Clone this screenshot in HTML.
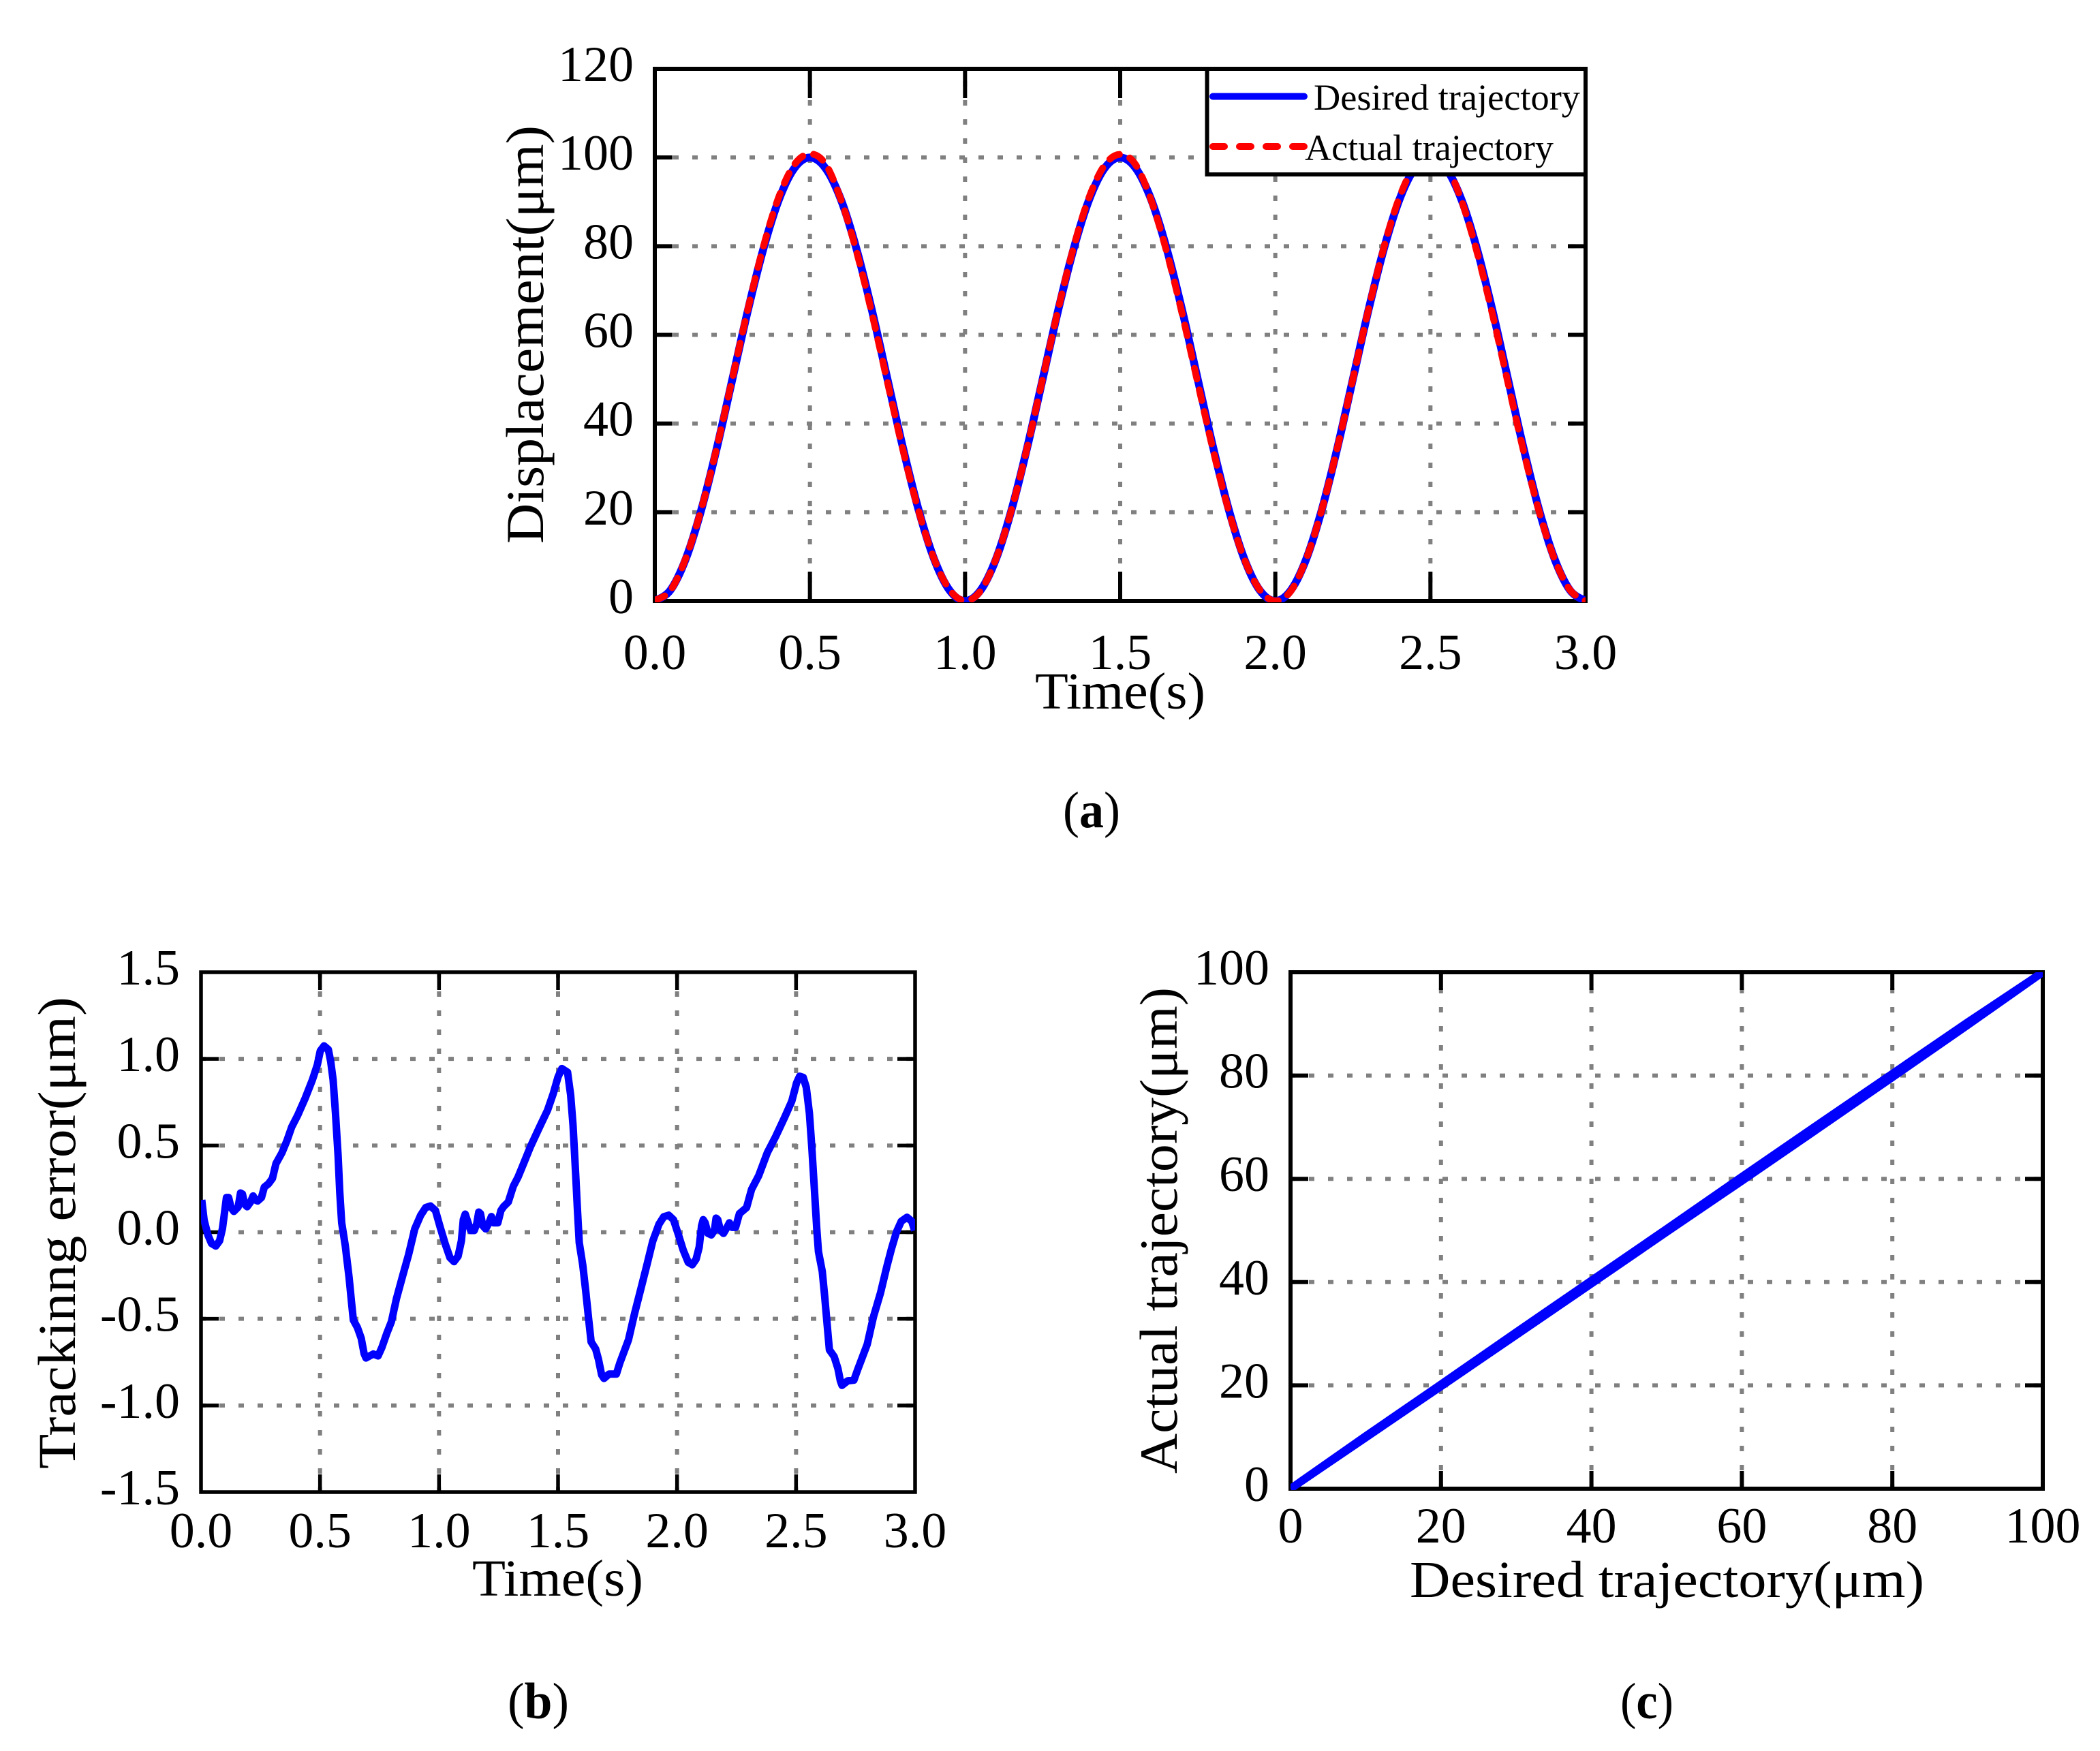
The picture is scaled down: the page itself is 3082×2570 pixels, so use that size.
<!DOCTYPE html>
<html lang="en">
<head>
<meta charset="utf-8">
<title>Trajectory tracking charts</title>
<style>
html,body{margin:0;padding:0;background:#fff;}
svg{display:block;}
text{font-family:"Liberation Serif",serif;fill:#000;}
</style>
</head>
<body>
<svg id="fig" xmlns="http://www.w3.org/2000/svg" width="3082" height="2570" viewBox="0 0 3082 2570">
  <rect width="3082" height="2570" fill="#fff"/>
  <defs>
    <clipPath id="clip-a"><rect x="961" y="101" width="1366" height="783"/></clipPath>
    <clipPath id="clip-b"><rect x="295" y="1427" width="1048" height="763"/></clipPath>
    <clipPath id="clip-c"><rect x="1894" y="1427" width="1104" height="760"/></clipPath>
  </defs>
  <g id="panel-a"></g>
  <g id="panel-b"></g>
  <g id="panel-c"></g>

  <text x="1519" y="1040" font-size="76" textLength="250" lengthAdjust="spacingAndGlyphs">Time(s)</text>
  <text transform="translate(797 798) rotate(-90)" font-size="78" textLength="614" lengthAdjust="spacingAndGlyphs">Displacement(μm)</text>
  <text x="1560" y="1214" font-size="75" textLength="84" lengthAdjust="spacingAndGlyphs">(<tspan font-weight="bold">a</tspan>)</text>

  <text x="693" y="2342" font-size="76" textLength="251" lengthAdjust="spacingAndGlyphs">Time(s)</text>
  <text transform="translate(110 2156) rotate(-90)" font-size="78" textLength="693" lengthAdjust="spacingAndGlyphs">Trackinng error(μm)</text>
  <text x="745" y="2522" font-size="75" textLength="90" lengthAdjust="spacingAndGlyphs">(<tspan font-weight="bold">b</tspan>)</text>

  <text x="2069" y="2344" font-size="76" textLength="755" lengthAdjust="spacingAndGlyphs">Desired trajectory(μm)</text>
  <text transform="translate(1727 2163) rotate(-90)" font-size="78" textLength="714" lengthAdjust="spacingAndGlyphs">Actual trajectory(μm)</text>
  <text x="2378" y="2522" font-size="75" textLength="78" lengthAdjust="spacingAndGlyphs">(<tspan font-weight="bold">c</tspan>)</text>

  <g id="legend">
    <rect x="1771.5" y="101" width="555.5" height="155" fill="#fff" stroke="#000" stroke-width="6"/>
    <line x1="1780" y1="141.5" x2="1914" y2="141.5" stroke="#0000ff" stroke-width="10" stroke-linecap="round"/>
    <text x="1928" y="161" font-size="54" textLength="391" lengthAdjust="spacingAndGlyphs">Desired trajectory</text>
    <line x1="1780" y1="215" x2="1914" y2="215" stroke="#ff0000" stroke-width="10" stroke-linecap="round" stroke-dasharray="17 22"/>
    <text x="1915" y="235" font-size="54" textLength="365" lengthAdjust="spacingAndGlyphs">Actual trajectory</text>
  </g>
</svg>
<script>
/* ---------- Panel (a) data ---------- */
const aTime = [0,0.05,0.1,0.15,0.2,0.25,0.3,0.35,0.4,0.45,0.5,0.55,0.6,0.65,0.7,0.75,0.8,0.85,0.9,0.95,1,
  1.05,1.1,1.15,1.2,1.25,1.3,1.35,1.4,1.45,1.5,1.55,1.6,1.65,1.7,1.75,1.8,1.85,1.9,1.95,2,
  2.05,2.1,2.15,2.2,2.25,2.3,2.35,2.4,2.45,2.5,2.55,2.6,2.65,2.7,2.75,2.8,2.85,2.9,2.95,3];
const aDesired = [0,2.4,9.5,20.6,34.5,50,65.5,79.4,90.5,97.6,100,97.6,90.5,79.4,65.5,50,34.5,20.6,9.5,2.4,0,
  2.4,9.5,20.6,34.5,50,65.5,79.4,90.5,97.6,100,97.6,90.5,79.4,65.5,50,34.5,20.6,9.5,2.4,0,
  2.4,9.5,20.6,34.5,50,65.5,79.4,90.5,97.6,100,97.6,90.5,79.4,65.5,50,34.5,20.6,9.5,2.4,0];
const aActual = [0.1,2.33,9.65,20.73,34.67,50.2,65.81,79.89,91.16,98.42,100.8,98.55,90.48,78.85,64.78,49.3,33.98,20.36,9.52,2.55,0.05,
  2.26,9.58,20.62,34.53,50.07,65.7,79.78,91.05,98.29,100.7,98.35,90.33,78.72,64.67,49.19,33.9,20.3,9.45,2.49,0,
  2.23,9.55,20.6,34.53,50.03,65.65,79.74,91,98.25,100.7,98.35,90.3,78.7,64.63,49.16,33.86,20.25,9.41,2.46,0];
const aXTicks = ["0.0","0.5","1.0","1.5","2.0","2.5","3.0"];
const aYTicks = ["0","20","40","60","80","100","120"];

/* ---------- Panel (b) data ---------- */
const bTime = [0.003,0.013,0.029,0.044,0.062,0.078,0.09,0.1,0.107,0.116,0.126,0.138,0.156,0.166,0.174,0.184,0.194,0.208,0.219,0.228,0.238,0.254,0.266,0.284,0.3,0.315,0.34,0.361,0.381,0.407,0.438,0.468,0.489,0.501,0.517,0.535,0.545,0.555,0.565,0.576,0.583,0.591,0.606,0.622,0.632,0.64,0.657,0.673,0.685,0.693,0.709,0.724,0.744,0.76,0.78,0.8,0.821,0.847,0.872,0.898,0.923,0.944,0.964,0.985,
  1.005,1.026,1.046,1.063,1.08,1.094,1.102,1.11,1.12,1.133,1.148,1.158,1.167,1.174,1.184,1.196,1.21,1.22,1.23,1.247,1.26,1.271,1.291,1.312,1.332,1.358,1.384,1.42,1.456,1.48,1.5,1.516,1.54,1.553,1.563,1.574,1.581,1.589,1.604,1.617,1.629,1.639,1.658,1.67,1.683,1.693,1.714,1.745,1.76,1.796,1.821,1.847,1.873,1.898,1.924,1.944,1.965,1.985,
  2.006,2.026,2.047,2.064,2.08,2.093,2.103,2.11,2.118,2.13,2.144,2.157,2.164,2.171,2.182,2.195,2.21,2.22,2.231,2.246,2.262,2.292,2.313,2.343,2.379,2.415,2.451,2.482,2.502,2.515,2.53,2.543,2.556,2.566,2.577,2.587,2.594,2.61,2.62,2.63,2.64,2.66,2.676,2.686,2.693,2.717,2.743,2.758,2.799,2.825,2.855,2.881,2.901,2.922,2.942,2.966,2.986,2.998];
const bError = [0.186,0.07,-0.016,-0.065,-0.08,-0.05,0.02,0.125,0.2,0.2,0.142,0.12,0.145,0.226,0.22,0.16,0.147,0.174,0.209,0.186,0.18,0.2,0.26,0.28,0.31,0.396,0.458,0.528,0.607,0.677,0.774,0.879,0.967,1.046,1.075,1.054,0.984,0.879,0.686,0.44,0.23,0.054,-0.077,-0.26,-0.4,-0.507,-0.55,-0.612,-0.7,-0.726,-0.714,-0.703,-0.714,-0.665,-0.586,-0.516,-0.384,-0.253,-0.13,0.019,0.098,0.142,0.151,0.125,
  0.028,-0.068,-0.147,-0.17,-0.139,-0.05,0.072,0.104,0.063,0.01,0.01,0.046,0.116,0.107,0.037,0.019,0.054,0.09,0.054,0.054,0.125,0.147,0.174,0.265,0.318,0.405,0.493,0.6,0.704,0.8,0.896,0.944,0.923,0.791,0.616,0.335,0.142,-0.06,-0.191,-0.349,-0.507,-0.633,-0.674,-0.735,-0.823,-0.844,-0.819,-0.819,-0.753,-0.621,-0.472,-0.332,-0.191,-0.051,0.046,0.089,0.098,0.072,
  -0.016,-0.104,-0.174,-0.188,-0.156,-0.086,0.037,0.072,0.054,-0.007,-0.016,0.011,0.081,0.072,0.011,-0.007,0.028,0.054,0.028,0.028,0.107,0.142,0.247,0.326,0.458,0.554,0.66,0.756,0.861,0.9,0.893,0.835,0.686,0.493,0.247,0.019,-0.112,-0.226,-0.367,-0.525,-0.679,-0.718,-0.788,-0.858,-0.884,-0.858,-0.854,-0.796,-0.647,-0.489,-0.349,-0.2,-0.095,0.002,0.063,0.086,0.063,0.01];
const bXTicks = ["0.0","0.5","1.0","1.5","2.0","2.5","3.0"];
const bYTicks = ["-1.5","-1.0","-0.5","0.0","0.5","1.0","1.5"];

/* ---------- Panel (c) data ---------- */
const cDesired = [0,10,20,30,40,50,60,70,80,90,100,90,80,70,60,50,40,30,20,10,0];
const cActual = [0,10.2,20.2,30.3,40.3,50.3,60.4,70.4,80.35,90.3,100,89.75,79.65,69.6,59.6,49.7,39.7,29.75,19.8,9.9,0];
const cXTicks = ["0","20","40","60","80","100"];
const cYTicks = ["0","20","40","60","80","100"];

/* ---------- Drawing helpers ---------- */
const NS = 'http://www.w3.org/2000/svg';
function svgEl(tag, attrs, parent){
  const el = document.createElementNS(NS, tag);
  for (const k in attrs) el.setAttribute(k, attrs[k]);
  parent.appendChild(el);
  return el;
}
function linearScale(d0, d1, r0, r1){
  return v => r0 + (v - d0) * (r1 - r0) / (d1 - d0);
}
function linePath(xs, ys, sx, sy){
  return xs.map((v, i) => (i ? 'L' : 'M') + sx(v).toFixed(2) + ' ' + sy(ys[i]).toFixed(2)).join('');
}
function smoothPath(xs, ys, sx, sy){
  const p = xs.map((v, i) => [sx(v), sy(ys[i])]);
  let d = 'M' + p[0][0].toFixed(2) + ' ' + p[0][1].toFixed(2);
  for (let i = 0; i < p.length - 1; i++){
    const a = p[Math.max(i - 1, 0)], b = p[i], c = p[i + 1], e = p[Math.min(i + 2, p.length - 1)];
    d += 'C' + (b[0] + (c[0] - a[0]) / 6).toFixed(2) + ' ' + (b[1] + (c[1] - a[1]) / 6).toFixed(2) + ' '
       + (c[0] - (e[0] - b[0]) / 6).toFixed(2) + ' ' + (c[1] - (e[1] - b[1]) / 6).toFixed(2) + ' '
       + c[0].toFixed(2) + ' ' + c[1].toFixed(2);
  }
  return d;
}
function drawAxes(g, o){
  const sx = o.sx, sy = o.sy;
  const inner = arr => arr.slice(1, -1);
  inner(o.xTicks).forEach(t => {
    const x = sx(Number(t));
    const gl = svgEl('line', {x1:x, y1:o.bottom, x2:x, y2:o.top, stroke:'#808080', 'stroke-width':6, 'stroke-dasharray':'8 20', 'stroke-dashoffset':1}, g);
    
    
  });
  inner(o.yTicks).forEach(t => {
    const y = sy(Number(t));
    const gl = svgEl('line', {x1:o.left, y1:y, x2:o.right, y2:y, stroke:'#808080', 'stroke-width':6, 'stroke-dasharray':'8 20', 'stroke-dashoffset':1}, g);
    
    
  });
  inner(o.xTicks).forEach(t => {
    const x = sx(Number(t));
    const t1 = svgEl('line', {x1:x, y1:o.bottom, x2:x, y2:o.bottom - o.xTickLen, stroke:'#000', 'stroke-width':o.sw}, g);
    
    
    const t2 = svgEl('line', {x1:x, y1:o.top, x2:x, y2:o.top + o.xTickLen, stroke:'#000', 'stroke-width':o.sw}, g);
    
    
  });
  inner(o.yTicks).forEach(t => {
    const y = sy(Number(t));
    const t1 = svgEl('line', {x1:o.left, y1:y, x2:o.left + o.yTickLen, y2:y, stroke:'#000', 'stroke-width':o.sw}, g);
    
    
    const t2 = svgEl('line', {x1:o.right, y1:y, x2:o.right - o.yTickLen, y2:y, stroke:'#000', 'stroke-width':o.sw}, g);
    
    
  });
  const fr = svgEl('rect', {x:o.left, y:o.top, width:o.right - o.left, height:o.bottom - o.top, fill:'none', stroke:'#000', 'stroke-width':o.sw}, g);
  
  
  o.xTicks.forEach(t => {
    const lb = svgEl('text', {x:sx(Number(t)), y:o.xLabelY, 'text-anchor':'middle', 'font-size':74}, g);
    
    
    lb.textContent = t;
  });
  o.yTicks.forEach(t => {
    const lb = svgEl('text', {x:o.yLabelX, y:sy(Number(t)) + 18, 'text-anchor':'end', 'font-size':74}, g);
    
    
    lb.textContent = t;
  });
}

/* ---------- Panel (a) ---------- */
const ga = document.getElementById('panel-a');
const axA = {left:961, right:2327, top:101, bottom:882, sw:6, xTickLen:43, yTickLen:26, xLabelY:982, yLabelX:930, xTicks:aXTicks, yTicks:aYTicks,
  sx:linearScale(0, 3, 961, 2327), sy:linearScale(0, 120, 882, 101)};
drawAxes(ga, axA);
const aBlue = svgEl('path', {d:smoothPath(aTime, aDesired, axA.sx, axA.sy), fill:'none', stroke:'#0000ff', 'stroke-width':11.5, 'clip-path':'url(#clip-a)'}, ga);


const aRed = svgEl('path', {d:smoothPath(aTime, aActual, axA.sx, axA.sy), fill:'none', stroke:'#ff0000', 'stroke-width':10, 'stroke-linecap':'round', 'stroke-dasharray':'16 16.5', 'clip-path':'url(#clip-a)'}, ga);



/* ---------- Panel (b) ---------- */
const gb = document.getElementById('panel-b');
const axB = {left:295, right:1343, top:1427, bottom:2190, sw:5.5, xTickLen:26, yTickLen:26, xLabelY:2271, yLabelX:264, xTicks:bXTicks, yTicks:bYTicks,
  sx:linearScale(0, 3, 295, 1343), sy:linearScale(-1.5, 1.5, 2190, 1427)};
drawAxes(gb, axB);
const bLine = svgEl('path', {d:linePath(bTime, bError, axB.sx, axB.sy), fill:'none', stroke:'#0000ff', 'stroke-width':11, 'stroke-linejoin':'round', 'clip-path':'url(#clip-b)'}, gb);



/* ---------- Panel (c) ---------- */
const gc = document.getElementById('panel-c');
const axC = {left:1894, right:2998, top:1427, bottom:2185, sw:6, xTickLen:26, yTickLen:26, xLabelY:2264, yLabelX:1863, xTicks:cXTicks, yTicks:cYTicks,
  sx:linearScale(0, 100, 1894, 2998), sy:linearScale(0, 100, 2185, 1427)};
drawAxes(gc, axC);
const cLine = svgEl('path', {d:linePath(cDesired, cActual, axC.sx, axC.sy), fill:'none', stroke:'#0000ff', 'stroke-width':11.5, 'stroke-linejoin':'round', 'clip-path':'url(#clip-c)'}, gc);


</script>
</body>
</html>
